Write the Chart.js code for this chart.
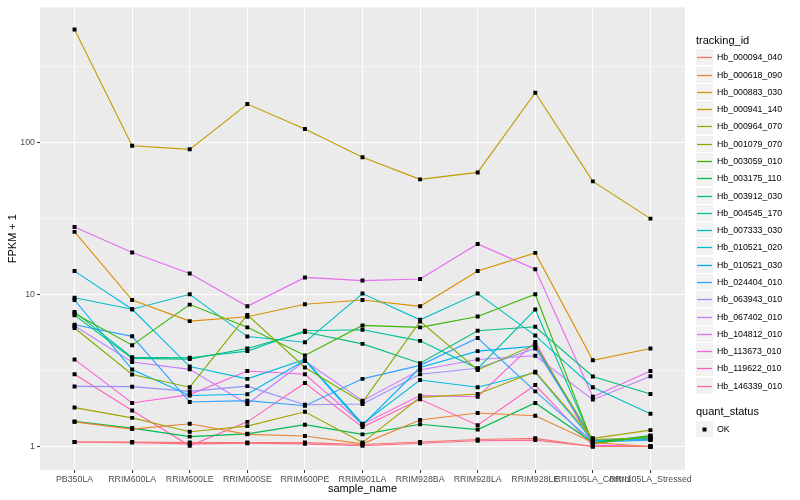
<!DOCTYPE html>
<html>
<head>
<meta charset="utf-8">
<script src="https://cdn.jsdelivr.net/npm/chart.js@4.4.0/dist/chart.umd.min.js"></script>
<style>
  html, body { margin: 0; padding: 0; background: #fff; }
  #wrap { position: relative; width: 800px; height: 500px; font-family: "Liberation Sans", Arial, Helvetica, sans-serif; }
  #chart { position: absolute; left: 0; top: 0; }
  .legend-title { position: absolute; left: 696px; font-size: 11px; line-height: 13px; color: #000; white-space: nowrap; }
  .key-label { position: absolute; left: 717px; font-size: 8.8px; line-height: 10px; color: #000; white-space: nowrap; }
</style>
</head>
<body>
<div id="wrap">
  <canvas id="chart" width="800" height="500"></canvas>
  <div id="legend"></div>
</div>
<script>
const sampleNames = ['PB350LA', 'RRIM600LA', 'RRIM600LE', 'RRIM600SE', 'RRIM600PE', 'RRIM901LA',
  'RRIM928BA', 'RRIM928LA', 'RRIM928LE', 'RRII105LA_Control', 'RRII105LA_Stressed'];

const trackingIds = ['Hb_000094_040', 'Hb_000618_090', 'Hb_000883_030', 'Hb_000941_140', 'Hb_000964_070',
  'Hb_001079_070', 'Hb_003059_010', 'Hb_003175_110', 'Hb_003912_030', 'Hb_004545_170',
  'Hb_007333_030', 'Hb_010521_020', 'Hb_010521_030', 'Hb_024404_010', 'Hb_063943_010',
  'Hb_067402_010', 'Hb_104812_010', 'Hb_113673_010', 'Hb_119622_010', 'Hb_146339_010'];

// FPKM + 1 per sample
const hb_000094_040 = [1.07, 1.07, 1.06, 1.06, 1.06, 1.03, 1.07, 1.11, 1.13, 1.00, 1.00];
const hb_000618_090 = [1.45, 1.30, 1.41, 1.20, 1.17, 1.04, 1.49, 1.66, 1.59, 1.06, 1.00];
const hb_000883_030 = [25.7, 9.17, 6.66, 7.11, 8.59, 9.17, 8.33, 14.2, 18.7, 3.68, 4.40];
const hb_000941_140 = [549, 94.6, 89.6, 177.7, 122, 79.5, 56.9, 63.2, 211, 55.2, 31.4];
const hb_000964_070 = [1.80, 1.54, 1.25, 1.36, 1.69, 1.06, 2.10, 2.21, 3.10, 1.13, 1.28];
const hb_001079_070 = [6.00, 2.97, 2.45, 7.32, 3.30, 1.95, 6.63, 3.18, 4.67, 1.11, 1.14];
const hb_003059_010 = [7.47, 4.63, 8.55, 6.06, 3.96, 6.24, 6.06, 7.14, 10.0, 1.04, 1.17];
const hb_003175_110 = [1.46, 1.32, 1.16, 1.21, 1.39, 1.20, 1.40, 1.29, 1.93, 1.06, 1.18];
const hb_003912_030 = [7.29, 3.79, 3.75, 4.40, 5.65, 4.72, 3.52, 5.76, 6.12, 2.88, 2.21];
const hb_004545_170 = [7.66, 3.85, 3.83, 4.23, 5.76, 5.85, 4.94, 3.25, 7.93, 1.05, 1.16];
const hb_007333_030 = [9.49, 7.97, 10.0, 5.27, 4.84, 10.1, 6.79, 10.1, 5.35, 2.45, 1.64];
const hb_010521_020 = [14.2, 7.97, 3.35, 2.78, 3.73, 1.41, 2.73, 2.45, 3.06, 1.09, 1.11];
const hb_010521_030 = [9.17, 3.20, 2.16, 2.20, 3.68, 1.38, 3.30, 4.23, 4.56, 1.09, 1.13];
const hb_024404_010 = [6.30, 5.29, 1.96, 2.00, 1.85, 2.78, 3.41, 5.16, 2.30, 1.07, 1.10];
const hb_063943_010 = [2.48, 2.47, 2.30, 2.49, 1.88, 1.90, 2.98, 3.26, 4.40, 1.10, 1.12];
const hb_067402_010 = [6.18, 3.59, 3.21, 1.90, 3.64, 2.00, 3.18, 3.73, 3.94, 2.03, 2.89];
const hb_104812_010 = [27.7, 18.8, 13.7, 8.33, 12.9, 12.3, 12.6, 21.4, 14.6, 2.12, 3.13];
const hb_113673_010 = [3.73, 1.93, 2.19, 3.13, 2.98, 1.40, 2.16, 2.12, 4.86, 1.02, 1.00];
const hb_119622_010 = [2.98, 1.72, 1.01, 1.45, 2.61, 1.34, 2.04, 1.38, 2.53, 1.01, 1.00];
const hb_146339_010 = [1.07, 1.06, 1.04, 1.05, 1.04, 1.01, 1.05, 1.09, 1.10, 1.00, 1.00];

const seriesValues = [hb_000094_040, hb_000618_090, hb_000883_030, hb_000941_140, hb_000964_070,
  hb_001079_070, hb_003059_010, hb_003175_110, hb_003912_030, hb_004545_170,
  hb_007333_030, hb_010521_020, hb_010521_030, hb_024404_010, hb_063943_010,
  hb_067402_010, hb_104812_010, hb_113673_010, hb_119622_010, hb_146339_010];

const yMajorTicks = [1, 10, 100];
const yMinorTicks = [3.1623, 31.623, 316.23];

const palette = ['#F8766D', '#EA8331', '#D89000', '#C09B00', '#A3A500', '#7CAE00', '#39B600', '#00BB4E',
  '#00BF7D', '#00C1A3', '#00BFC4', '#00BAE0', '#00B0F6', '#35A2FF', '#9590FF', '#C77CFF',
  '#E76BF3', '#FA62DB', '#FF62BC', '#FF6C91'];

const tickFont = { family: '"Liberation Sans", Arial, Helvetica, sans-serif', size: 8.8 };
const titleFont = { family: '"Liberation Sans", Arial, Helvetica, sans-serif', size: 11 };

const keyX = 696, keySize = 17;
const firstKeyY = 57.3, keyStep = 17.28, okKeyY = 429;

const panelBg = {
  id: 'panelBg',
  beforeDraw(chart) {
    const a = chart.chartArea;
    const ctx = chart.ctx;
    ctx.save();
    ctx.fillStyle = '#EBEBEB';
    ctx.fillRect(a.left, a.top, a.right - a.left, a.bottom - a.top);
    ctx.restore();
  }
};

// legend keys drawn on the canvas, labels are html text
const legendKeys = {
  id: 'legendKeys',
  afterDraw(chart) {
    const ctx = chart.ctx;
    ctx.save();
    trackingIds.forEach((id, k) => {
      const cy = Math.round(firstKeyY + k * keyStep);
      ctx.fillStyle = '#F2F2F2';
      ctx.fillRect(keyX, cy - 8, keySize, keySize - 1);
      ctx.strokeStyle = palette[k];
      ctx.lineWidth = 1.3;
      ctx.beginPath();
      ctx.moveTo(keyX + 1, cy + 0.5);
      ctx.lineTo(keyX + keySize - 1, cy + 0.5);
      ctx.stroke();
    });
    const cy = Math.round(okKeyY);
    ctx.fillStyle = '#F2F2F2';
    ctx.fillRect(keyX, cy - 8, keySize, keySize - 1);
    ctx.fillStyle = '#000';
    ctx.fillRect(keyX + 6.5, cy - 1.5, 4, 4);
    ctx.restore();
  }
};

const datasets = [];
seriesValues.forEach((vals, k) => {
  const pts = vals.map((v, i) => ({ x: i, y: v }));
  datasets.push({
    label: trackingIds[k],
    data: pts,
    borderColor: palette[k],
    borderWidth: 1.1,
    pointRadius: 0,
    fill: false,
    tension: 0,
    order: 1
  });
  datasets.push({
    label: trackingIds[k] + ' OK',
    data: pts,
    showLine: false,
    pointStyle: 'rect',
    pointRadius: 2.8,
    pointBackgroundColor: '#000',
    pointBorderWidth: 0,
    order: 0
  });
});

new Chart(document.getElementById('chart'), {
  type: 'line',
  data: { datasets: datasets },
  plugins: [panelBg, legendKeys],
  options: {
    responsive: false,
    animation: false,
    devicePixelRatio: 1,
    layout: { padding: { left: 0, right: 115, top: 5, bottom: 0 } },
    plugins: { legend: { display: false }, tooltip: { enabled: false } },
    scales: {
      x: {
        type: 'linear',
        min: -0.6,
        max: sampleNames.length - 1 + 0.6,
        afterBuildTicks: s => { s.ticks = sampleNames.map((n, i) => ({ value: i })); },
        afterFit: s => { s.height = 30; },
        border: { display: false },
        grid: { color: '#FFFFFF', lineWidth: 1.07, tickColor: '#333333', tickLength: 3, tickWidth: 1 },
        ticks: {
          autoSkip: false, maxRotation: 0, minRotation: 0, padding: 1,
          color: '#4D4D4D', font: tickFont,
          callback: v => sampleNames[v]
        },
        title: { display: true, text: 'sample_name', color: '#000', font: titleFont, padding: { top: 2, bottom: 4 } }
      },
      y: {
        type: 'logarithmic',
        min: 0.719,
        max: 769,
        afterBuildTicks: s => {
          s.ticks = yMajorTicks.concat(yMinorTicks).sort((a, b) => a - b).map(v => ({ value: v }));
        },
        afterFit: s => { s.width = 40; },
        border: { display: false },
        grid: {
          color: '#FFFFFF',
          lineWidth: c => yMajorTicks.includes(c.tick.value) ? 1.07 : 0.53,
          tickColor: c => yMajorTicks.includes(c.tick.value) ? '#333333' : 'rgba(0,0,0,0)',
          tickLength: 3,
          tickWidth: 1
        },
        ticks: {
          padding: 2, color: '#4D4D4D', font: tickFont,
          callback: v => yMajorTicks.includes(v) ? String(v) : ''
        },
        title: { display: true, text: 'FPKM + 1', color: '#000', font: titleFont, padding: { top: 6, bottom: 2 } }
      }
    }
  }
});

// legend text
const legend = document.getElementById('legend');
function addText(cls, text, top) {
  const t = document.createElement('div');
  t.className = cls;
  t.style.top = top + 'px';
  t.textContent = text;
  legend.appendChild(t);
}
addText('legend-title', 'tracking_id', Math.round(40.7 - 6.5));
trackingIds.forEach((id, k) => addText('key-label', id, Math.round(firstKeyY + k * keyStep) - 5));
addText('legend-title', 'quant_status', Math.round(411.7 - 6.5));
addText('key-label', 'OK', Math.round(okKeyY) - 5);
</script>
</body>
</html>
